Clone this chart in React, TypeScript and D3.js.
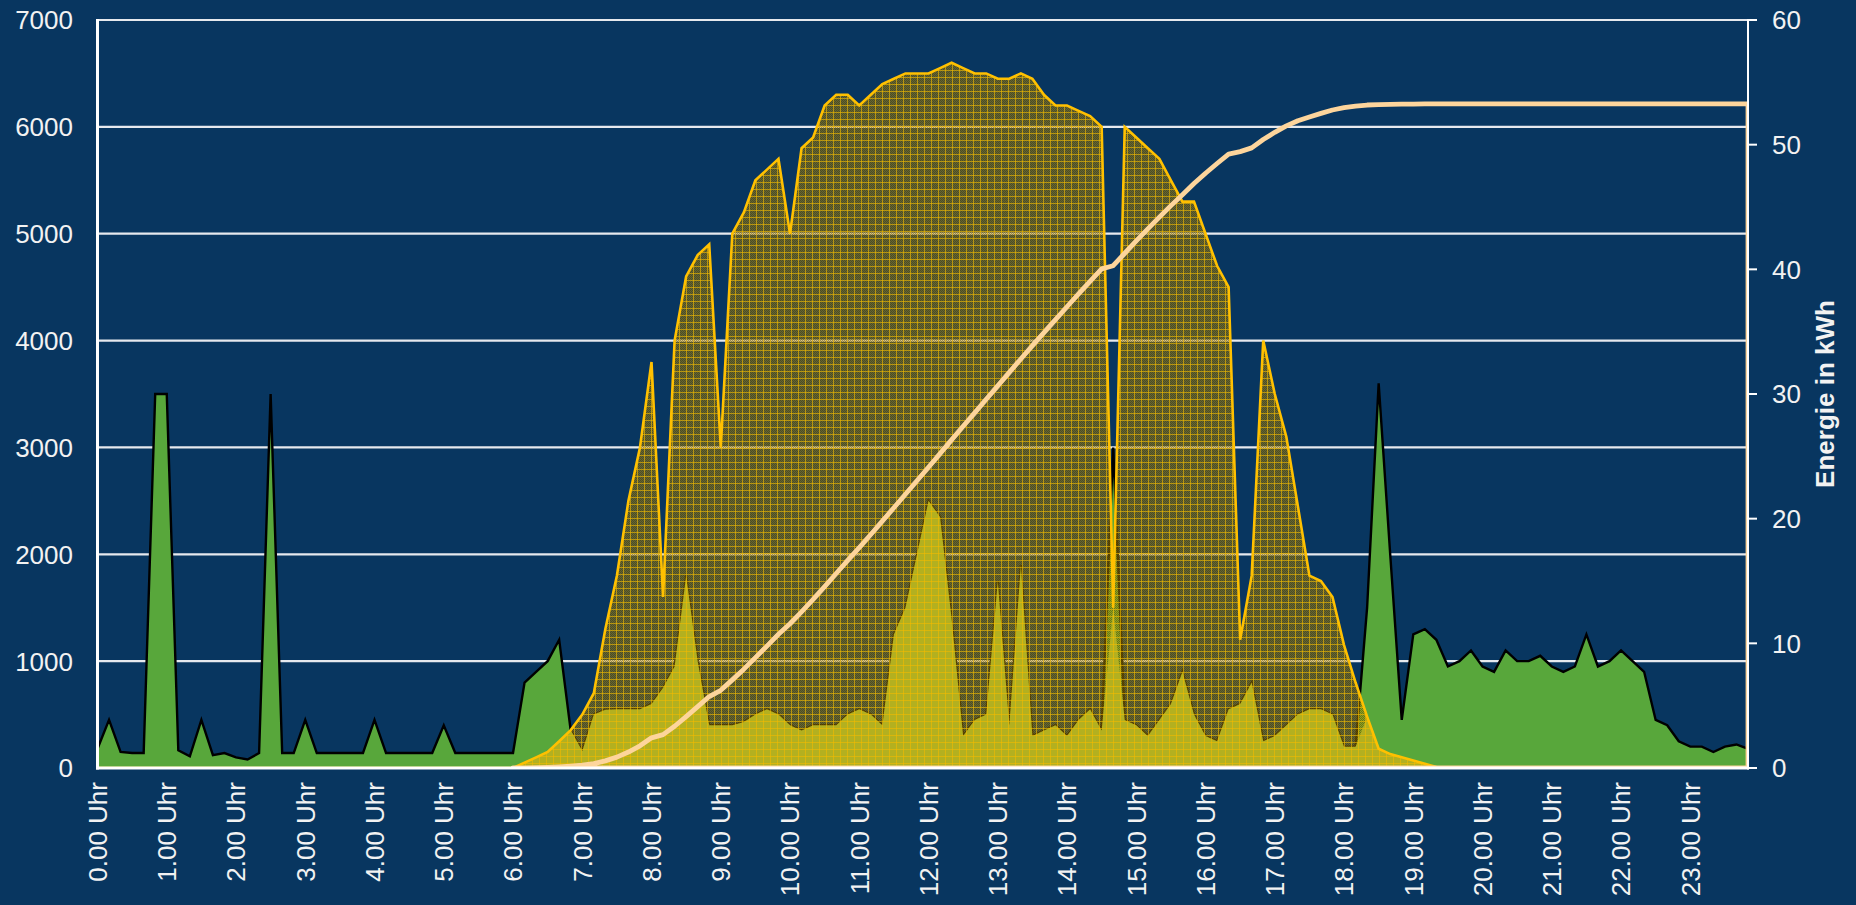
import React from "react";
import * as d3 from "d3";

// 10-minute samples, 0:00 .. 23:50
const hourLabels = Array.from({ length: 24 }, (_, h) => `${h}.00 Uhr`);
const leftTicks = [0, 1000, 2000, 3000, 4000, 5000, 6000, 7000];
const rightTicks = [0, 10, 20, 30, 40, 50, 60];
const rightTitle = "Energie in kWh";

// Verbrauch (W)
const consumption = [
  180, 450, 150, 140, 140, 3500, 3500, 165, 110, 450, 120, 140, 100, 80, 140, 3500, 140, 140, 450, 140, 140, 140, 140, 140,
  450, 140, 140, 140, 140, 140, 400, 140, 140, 140, 140, 140, 140, 800, 900, 1000, 1200, 350, 160, 500, 545, 550, 550, 550,
  600, 750, 950, 1800, 1000, 400, 400, 400, 430, 500, 550, 500, 400, 350, 400, 400, 400, 500, 550, 500, 400, 1250, 1500, 2000,
  2500, 2350, 1400, 300, 450, 500, 1750, 400, 1900, 300, 350, 400, 300, 450, 550, 350, 3000, 450, 400, 300, 450, 600, 900, 500,
  300, 250, 550, 600, 800, 250, 300, 400, 500, 550, 550, 500, 200, 200, 1500, 3600, 2000, 450, 1250, 1300, 1200, 950, 1000, 1100,
  950, 900, 1100, 1000, 1000, 1050, 950, 900, 950, 1250, 950, 1000, 1100, 1000, 900, 450, 400, 250, 200, 200, 150, 200, 220, 180,
];

// Erzeugung PV (W)
const production = [
  0, 0, 0, 0, 0, 0, 0, 0, 0, 0, 0, 0, 0, 0, 0, 0, 0, 0, 0, 0, 0, 0, 0, 0,
  0, 0, 0, 0, 0, 0, 0, 0, 0, 0, 0, 0, 0, 50, 100, 150, 250, 355, 500, 700, 1300, 1800, 2500, 3000,
  3800, 1600, 4000, 4600, 4800, 4900, 3000, 5000, 5200, 5500, 5600, 5700, 5000, 5800, 5900, 6200, 6300, 6300, 6200, 6300, 6400, 6450, 6500, 6500,
  6500, 6550, 6600, 6550, 6500, 6500, 6450, 6450, 6500, 6450, 6300, 6200, 6200, 6150, 6100, 6000, 1500, 6000, 5900, 5800, 5700, 5500, 5300, 5300,
  5000, 4700, 4500, 1200, 1800, 4000, 3500, 3100, 2450, 1800, 1750, 1600, 1150, 800, 480, 180, 130, 100, 70, 40, 10, 0, 0, 0,
  0, 0, 0, 0, 0, 0, 0, 0, 0, 0, 0, 0, 0, 0, 0, 0, 0, 0, 0, 0, 0, 0, 0, 0,
];

// Eigenverbrauch (W)
const selfUse = [
  0, 0, 0, 0, 0, 0, 0, 0, 0, 0, 0, 0, 0, 0, 0, 0, 0, 0, 0, 0, 0, 0, 0, 0,
  0, 0, 0, 0, 0, 0, 0, 0, 0, 0, 0, 0, 0, 50, 100, 150, 250, 355, 160, 500, 545, 550, 550, 550,
  600, 750, 950, 1800, 1000, 400, 400, 400, 430, 500, 550, 500, 400, 350, 400, 400, 400, 500, 550, 500, 400, 1250, 1500, 2000,
  2500, 2350, 1400, 300, 450, 500, 1750, 400, 1900, 300, 350, 400, 300, 450, 550, 350, 1500, 450, 400, 300, 450, 600, 900, 500,
  300, 250, 550, 600, 800, 250, 300, 400, 500, 550, 550, 500, 200, 200, 480, 180, 130, 100, 70, 40, 10, 0, 0, 0,
  0, 0, 0, 0, 0, 0, 0, 0, 0, 0, 0, 0, 0, 0, 0, 0, 0, 0, 0, 0, 0, 0, 0, 0,
];

// Energie kumuliert (kWh), null = noch keine Erzeugung
const energy: (number | null)[] = [
  null, null, null, null, null, null, null, null, null, null, null, null, null, null, null, null, null, null, null, null, null, null, null, null,
  null, null, null, null, null, null, null, null, null, null, null, null, 0, 0.01, 0.03, 0.05, 0.09, 0.15, 0.23, 0.35, 0.57, 0.87, 1.28, 1.78,
  2.42, 2.68, 3.35, 4.12, 4.92, 5.73, 6.23, 7.07, 7.93, 8.85, 9.78, 10.73, 11.57, 12.53, 13.52, 14.55, 15.6, 16.65, 17.68, 18.73, 19.8, 20.88, 21.96, 23.04,
  24.13, 25.22, 26.32, 27.41, 28.49, 29.58, 30.65, 31.73, 32.81, 33.88, 34.93, 35.97, 37.0, 38.03, 39.04, 40.04, 40.29, 41.29, 42.28, 43.24, 44.19, 45.11, 45.99, 46.88,
  47.71, 48.49, 49.24, 49.44, 49.74, 50.41, 50.99, 51.51, 51.92, 52.22, 52.51, 52.78, 52.97, 53.1, 53.18, 53.21, 53.23, 53.25, 53.26, 53.27, 53.27, 53.27, 53.27, 53.27,
  53.27, 53.27, 53.27, 53.27, 53.27, 53.27, 53.27, 53.27, 53.27, 53.27, 53.27, 53.27, 53.27, 53.27, 53.27, 53.27, 53.27, 53.27, 53.27, 53.27, 53.27, 53.27, 53.27, 53.27,
];

const W = 1856;
const H = 905;
const L = 97.5;
const R = 1748;
const T = 20;
const B = 768;
const FONT = "'Liberation Sans', Arial, sans-serif";
const BG = "#083660";
const TXT = "#f2f2f2";

export default function App() {
  const n = production.length;
  const x = d3.scaleLinear().domain([0, n - 1]).range([L, R]);
  const y = d3.scaleLinear().domain([0, 7000]).range([B, T]);
  const yE = d3.scaleLinear().domain([0, 60]).range([B, T]);
  const idx = d3.range(n);

  const areaOf = (vals: number[]) =>
    d3
      .area<number>()
      .x((i) => x(i))
      .y0(y(0))
      .y1((i) => y(vals[i]))(idx) as string;
  const lineOf = (vals: number[]) =>
    d3
      .line<number>()
      .x((i) => x(i))
      .y((i) => y(vals[i]))(idx) as string;

  const energyArea = d3
    .area<number>()
    .defined((i) => energy[i] != null)
    .x((i) => x(i))
    .y0(yE(0))
    .y1((i) => yE(energy[i] as number))(idx) as string;

  return (
    <svg
      width={W}
      height={H}
      style={{ position: "fixed", left: 0, top: 0, display: "block" }}
      fontFamily={FONT}
    >
      <defs>
        <pattern id="chk" width={2} height={2} patternUnits="userSpaceOnUse">
          <rect width={2} height={2} fill="rgba(210,160,0,0.46)" />
          <rect width={1} height={1} fill="rgba(45,30,0,0.36)" />
          <rect x={1} y={1} width={1} height={1} fill="rgba(45,30,0,0.36)" />
        </pattern>
        <pattern id="grid" width={7} height={7} patternUnits="userSpaceOnUse">
          <rect x={0} y={0} width={7} height={1} fill="rgba(240,185,0,0.62)" />
          <rect x={0} y={0} width={1} height={7} fill="rgba(240,185,0,0.62)" />
        </pattern>
        <clipPath id="plot">
          <rect x={L} y={T - 10} width={R - L} height={B - T + 10} />
        </clipPath>
      </defs>
      <rect width={W} height={H} fill={BG} />

      {/* gridlines */}
      {leftTicks.slice(1).map((t) => (
        <line key={t} x1={L} x2={R} y1={y(t)} y2={y(t)} stroke="#e6e9ee" strokeWidth={2.2} />
      ))}

      <g clipPath="url(#plot)">
        {/* Verbrauch */}
        <path d={areaOf(consumption)} fill="#58a73b" />
        <path d={lineOf(consumption)} fill="none" stroke="#000" strokeWidth={2.4} strokeLinejoin="miter" />

        {/* Erzeugung (semi-transparent hatch) */}
        <path d={areaOf(production)} fill="url(#chk)" />
        <path d={areaOf(production)} fill="url(#grid)" />

        {/* Eigenverbrauch */}
        <path d={areaOf(selfUse)} fill="#b3b020" />
        <path d={areaOf(selfUse)} fill="url(#grid)" />

        <path d={lineOf(production)} fill="none" stroke="#ffc000" strokeWidth={2.6} strokeLinejoin="miter" />

        {/* Energie */}
        <path d={energyArea} fill="none" stroke="#fdd59c" strokeWidth={4.8} strokeLinejoin="round" />
      </g>

      {/* axes */}
      <line x1={L} x2={L} y1={T - 1} y2={B + 1.5} stroke="#fff" strokeWidth={3} />
      <line x1={L - 1.5} x2={R + 1} y1={B} y2={B} stroke="#fff" strokeWidth={3} />
      <line x1={R} x2={R} y1={T - 1} y2={B + 1.5} stroke="#fff" strokeWidth={2} />
      {rightTicks.map((t) => (
        <line key={t} x1={R} x2={R + 9} y1={yE(t)} y2={yE(t)} stroke="#fff" strokeWidth={2} />
      ))}

      {/* left labels */}
      {leftTicks.map((t) => (
        <text key={t} x={73} y={y(t)} dy="0.36em" textAnchor="end" fontSize={26} fill={TXT}>
          {t}
        </text>
      ))}
      {/* right labels */}
      {rightTicks.map((t) => (
        <text key={t} x={1772} y={yE(t)} dy="0.36em" textAnchor="start" fontSize={26} fill={TXT}>
          {t}
        </text>
      ))}
      <text
        transform={`translate(1825,${(T + B) / 2 + 0}) rotate(-90)`}
        dy="0.36em"
        textAnchor="middle"
        fontSize={26}
        fontWeight="bold"
        fill={TXT}
      >
        {rightTitle}
      </text>

      {/* x labels */}
      {hourLabels.map((lab, h) => (
        <text
          key={lab}
          transform={`translate(${x(h * 6)},${B + 14}) rotate(-90)`}
          dy="0.36em"
          textAnchor="end"
          fontSize={26}
          fill={TXT}
        >
          {lab}
        </text>
      ))}
    </svg>
  );
}
